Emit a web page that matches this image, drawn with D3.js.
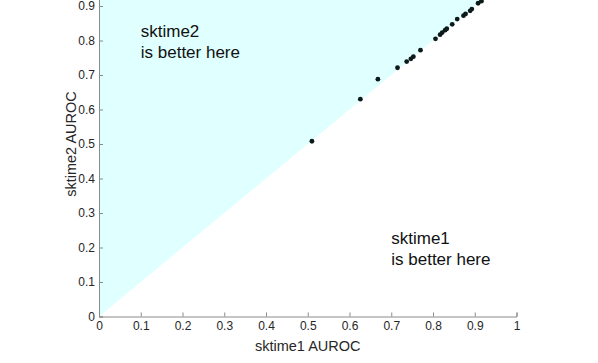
<!DOCTYPE html>
<html>
<head>
<meta charset="utf-8">
<script src="https://cdn.jsdelivr.net/npm/d3@7"></script>
<style>
  html, body { margin: 0; padding: 0; background: #fff; overflow: hidden; }
  text { font-family: "Liberation Sans", Arial, Helvetica, sans-serif; }
</style>
</head>
<body>
<svg id="view"></svg>
<script>
// AUROC of each dataset, sktime1 (x) vs sktime2 (y)
var sktime1 = [0.510, 0.626, 0.668, 0.715, 0.737, 0.747, 0.753, 0.770, 0.806, 0.817,
               0.822, 0.829, 0.833, 0.846, 0.858, 0.873, 0.878, 0.889, 0.893, 0.908, 0.916];
var sktime2 = [0.508, 0.630, 0.688, 0.721, 0.739, 0.747, 0.753, 0.772, 0.805, 0.817,
               0.823, 0.830, 0.834, 0.847, 0.862, 0.872, 0.877, 0.886, 0.891, 0.908, 0.914];
var ticks = [0, 0.1, 0.2, 0.3, 0.4, 0.5, 0.6, 0.7, 0.8, 0.9, 1];
var labels = [
  { x: 0.1, y: 0.8, lines: ["sktime2", "is better here"] },
  { x: 0.7, y: 0.2, lines: ["sktime1", "is better here"] }
];

var width = 598, height = 363;
var svg = d3.select("#view").attr("width", width).attr("height", height);

var x = d3.scaleLinear().domain([0, 1]).range([99, 516.5]);
var y = d3.scaleLinear().domain([0, 1]).range([316.5, -28.5]);

// triangle where sktime2 wins
svg.append("path")
  .attr("d", d3.line().x(d => x(d[0])).y(d => y(d[1]))([[0, 0], [0, 1], [1, 1]]) + "Z")
  .attr("fill", "#e0ffff");

// axes, MATLAB-like inward ticks
var xAxis = svg.append("g").attr("transform", "translate(0," + y(0) + ")")
  .call(d3.axisBottom(x).tickValues(ticks).tickFormat(d3.format("~g")).tickSize(-4).tickPadding(5));
var yAxis = svg.append("g").attr("transform", "translate(" + x(0) + ",0)")
  .call(d3.axisLeft(y).tickValues(ticks).tickFormat(d3.format("~g")).tickSize(-4).tickPadding(4));

[xAxis, yAxis].forEach(a => {
  a.select(".domain").attr("stroke", "#8a8a8a");
  a.selectAll(".tick line").attr("stroke", "#8a8a8a");
  a.selectAll(".tick text").attr("fill", "#262626").style("font-size", "12px")
    .style("font-family", '"Liberation Sans", Arial, sans-serif');
});

svg.append("text")
  .attr("x", (x(0) + x(1)) / 2).attr("y", 351)
  .attr("text-anchor", "middle").attr("fill", "#262626")
  .style("font-size", "14.5px")
  .text("sktime1 AUROC");

svg.append("text")
  .attr("transform", "translate(75.5," + ((y(0) + y(1)) / 2) + ") rotate(-90)")
  .attr("text-anchor", "middle").attr("fill", "#262626")
  .style("font-size", "14.5px")
  .text("sktime2 AUROC");

// region labels
labels.forEach(l => {
  var t = svg.append("text")
    .attr("x", x(l.x)).attr("y", y(l.y))
    .attr("fill", "#111").style("font-size", "17px");
  l.lines.forEach((s, i) => {
    t.append("tspan").attr("x", x(l.x))
      .attr("dy", i == 0 ? "-0.2em" : "1.25em")
      .text(s);
  });
});

// points
svg.append("g").selectAll("circle")
  .data(sktime1.map((v, i) => [v, sktime2[i]]))
  .join("circle")
  .attr("cx", d => x(d[0]))
  .attr("cy", d => y(d[1]))
  .attr("r", 2.4)
  .attr("fill", "#0d1a1a");
</script>
</body>
</html>
